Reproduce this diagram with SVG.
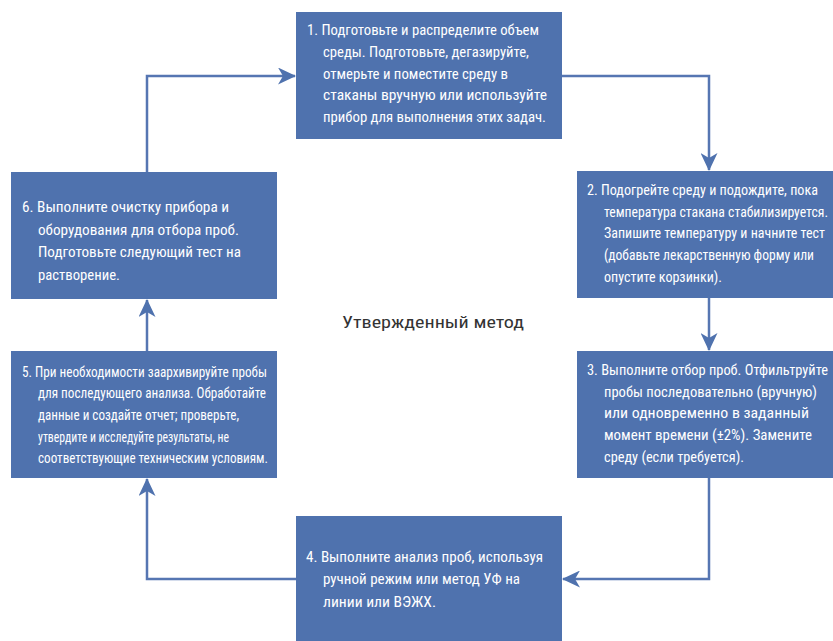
<svg xmlns="http://www.w3.org/2000/svg" width="833" height="641" viewBox="0 0 833 641">
<style>
.box{fill:#4f72ae}
.t{font-family:"Liberation Sans Narrow","Roboto Condensed","Liberation Sans",sans-serif;font-size:14.5px;fill:#ffffff}
.title{font-family:"Liberation Sans Narrow","Roboto Condensed","Liberation Sans",sans-serif;font-size:17px;fill:#333333}
.c{fill:none;stroke:#5676b2;stroke-width:2.5}
</style>
<defs>
<marker id="ah" viewBox="0 0 18 17" refX="17" refY="8.5" markerWidth="18" markerHeight="17" markerUnits="userSpaceOnUse" orient="auto">
<path d="M0,0 L18,8.5 L0,17 L5,8.5 Z" fill="#4f72ae"/>
</marker>
</defs>
<rect width="833" height="641" fill="#ffffff"/>
<g id="connectors">
<path class="c" d="M147,172 V76 H295" marker-end="url(#ah)"/>
<path class="c" d="M562,76 H709 V170" marker-end="url(#ah)"/>
<path class="c" d="M709,298 V350" marker-end="url(#ah)"/>
<path class="c" d="M709,478 V579 H563" marker-end="url(#ah)"/>
<path class="c" d="M296,579 H147 V479" marker-end="url(#ah)"/>
<path class="c" d="M147,351 V300" marker-end="url(#ah)"/>
</g>
<g id="node1">
<rect class="box" x="296" y="12" width="266" height="127"/>
<text class="t" x="307" y="35" textLength="232" lengthAdjust="spacingAndGlyphs">1. Подготовьте и распределите объем</text>
<text class="t" x="323" y="57" textLength="206" lengthAdjust="spacingAndGlyphs">среды. Подготовьте, дегазируйте,</text>
<text class="t" x="323" y="79" textLength="185" lengthAdjust="spacingAndGlyphs">отмерьте и поместите среду в</text>
<text class="t" x="323" y="100" textLength="224" lengthAdjust="spacingAndGlyphs">стаканы вручную или используйте</text>
<text class="t" x="323" y="122" textLength="223" lengthAdjust="spacingAndGlyphs">прибор для выполнения этих задач.</text>
</g>
<g id="node2">
<rect class="box" x="577" y="171" width="256" height="127"/>
<text class="t" x="587" y="195" textLength="231" lengthAdjust="spacingAndGlyphs">2. Подогрейте среду и подождите, пока</text>
<text class="t" transform="translate(604,217) scale(0.84,1)" x="0" y="0" textLength="266.7" lengthAdjust="spacingAndGlyphs">температура стакана стабилизируется.</text>
<text class="t" x="604" y="238" textLength="221" lengthAdjust="spacingAndGlyphs">Запишите температуру и начните тест</text>
<text class="t" x="604" y="260" textLength="210" lengthAdjust="spacingAndGlyphs">(добавьте лекарственную форму или</text>
<text class="t" x="604" y="282" textLength="118" lengthAdjust="spacingAndGlyphs">опустите корзинки).</text>
</g>
<g id="node3">
<rect class="box" x="577" y="351" width="256" height="127"/>
<text class="t" x="587" y="375" textLength="241" lengthAdjust="spacingAndGlyphs">3. Выполните отбор проб. Отфильтруйте</text>
<text class="t" x="604" y="397" textLength="213" lengthAdjust="spacingAndGlyphs">пробы последовательно (вручную)</text>
<text class="t" x="604" y="418" textLength="205" lengthAdjust="spacingAndGlyphs">или одновременно в заданный</text>
<text class="t" x="604" y="440" textLength="208" lengthAdjust="spacingAndGlyphs">момент времени (±2%). Замените</text>
<text class="t" x="604" y="462" textLength="140" lengthAdjust="spacingAndGlyphs">среду (если требуется).</text>
</g>
<g id="node4">
<rect class="box" x="296" y="516" width="266" height="125"/>
<text class="t" x="306" y="562" textLength="237" lengthAdjust="spacingAndGlyphs">4. Выполните анализ проб, используя</text>
<text class="t" x="323" y="584" textLength="197" lengthAdjust="spacingAndGlyphs">ручной режим или метод УФ на</text>
<text class="t" x="323" y="607" textLength="113" lengthAdjust="spacingAndGlyphs">линии или ВЭЖХ.</text>
</g>
<g id="node5">
<rect class="box" x="11" y="351" width="266" height="127"/>
<text class="t" x="22" y="377" textLength="245" lengthAdjust="spacingAndGlyphs">5. При необходимости заархивируйте пробы</text>
<text class="t" x="38" y="398" textLength="228" lengthAdjust="spacingAndGlyphs">для последующего анализа. Обработайте</text>
<text class="t" x="38" y="420" textLength="201" lengthAdjust="spacingAndGlyphs">данные и создайте отчет; проверьте,</text>
<text class="t" x="38" y="442" textLength="191" lengthAdjust="spacingAndGlyphs">утвердите и исследуйте результаты, не</text>
<text class="t" x="38" y="463" textLength="230" lengthAdjust="spacingAndGlyphs">соответствующие техническим условиям.</text>
</g>
<g id="node6">
<rect class="box" x="11" y="172" width="266" height="127"/>
<text class="t" x="22" y="212" textLength="207" lengthAdjust="spacingAndGlyphs">6. Выполните очистку прибора и</text>
<text class="t" x="38" y="235" textLength="201" lengthAdjust="spacingAndGlyphs">оборудования для отбора проб.</text>
<text class="t" x="38" y="257" textLength="203" lengthAdjust="spacingAndGlyphs">Подготовьте следующий тест на</text>
<text class="t" x="38" y="280" textLength="82" lengthAdjust="spacingAndGlyphs">растворение.</text>
</g>
<g id="title">
<text class="title" x="342" y="328" textLength="182" lengthAdjust="spacingAndGlyphs">Утвержденный метод</text>
</g>
</svg>
